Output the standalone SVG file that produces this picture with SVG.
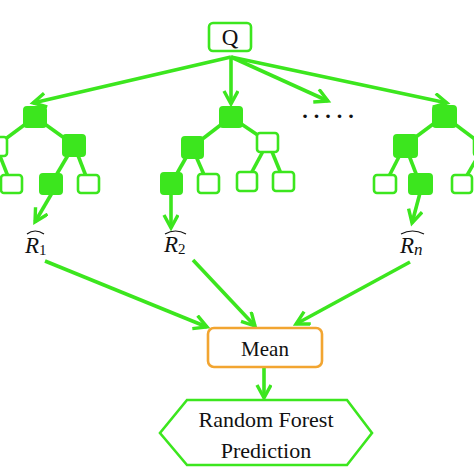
<svg xmlns="http://www.w3.org/2000/svg" width="474" height="474" viewBox="0 0 474 474">
<style>
.e{stroke:#3ce61e;stroke-width:3.6;fill:none}
.a{stroke:#3ce61e;stroke-width:3.6;fill:none;marker-end:url(#ah)}
.f{fill:#3ce61e;stroke:#3ce61e;stroke-width:2}
.w{fill:#fff;stroke:#3ce61e;stroke-width:2.6}
.t{font-family:"Liberation Serif",serif;fill:#111;text-anchor:middle}
.r{font-family:"Liberation Serif",serif;font-style:italic;fill:#111}
.h{stroke:#111;stroke-width:1.2;fill:none}
</style>
<defs>
<marker id="ah" markerUnits="userSpaceOnUse" markerWidth="18" markerHeight="18" refX="14" refY="8" orient="auto">
<path d="M1,1 L14,8 L1,15" stroke="#3ce61e" stroke-width="3.4" fill="none"/>
</marker>
</defs>
<rect width="474" height="474" fill="#fff"/>
<g id="connectors">
<line class="a" x1="231" y1="57" x2="33" y2="103"/>
<line class="a" x1="231" y1="57" x2="231" y2="104"/>
<line class="a" x1="231" y1="57" x2="328" y2="101"/>
<line class="a" x1="231" y1="57" x2="447" y2="103"/>
<line class="a" x1="52" y1="193" x2="35" y2="222"/>
<line class="a" x1="171" y1="193" x2="171" y2="228"/>
<line class="a" x1="420" y1="193" x2="412" y2="223"/>
<line class="a" x1="45" y1="261" x2="207" y2="327"/>
<line class="a" x1="193" y1="260" x2="255" y2="326"/>
<line class="a" x1="410" y1="262" x2="296" y2="324"/>
<line class="a" x1="264" y1="367" x2="264" y2="398"/>
<!-- tree edges -->
<line class="e" x1="35" y1="117" x2="-4" y2="146"/>
<line class="e" x1="35" y1="117" x2="74" y2="145"/>
<line class="e" x1="-4" y1="146" x2="11" y2="184"/>
<line class="e" x1="74" y1="145" x2="51" y2="184"/>
<line class="e" x1="74" y1="145" x2="89" y2="184"/>
<line class="e" x1="231" y1="117" x2="192" y2="147"/>
<line class="e" x1="231" y1="117" x2="268" y2="142"/>
<line class="e" x1="192" y1="147" x2="171" y2="184"/>
<line class="e" x1="192" y1="147" x2="208" y2="184"/>
<line class="e" x1="268" y1="142" x2="247" y2="181"/>
<line class="e" x1="268" y1="142" x2="284" y2="181"/>
<line class="e" x1="444" y1="116" x2="405" y2="145"/>
<line class="e" x1="444" y1="116" x2="484" y2="146"/>
<line class="e" x1="405" y1="145" x2="385" y2="184"/>
<line class="e" x1="405" y1="145" x2="420" y2="184"/>
<line class="e" x1="484" y1="146" x2="462" y2="184"/>
</g>
<g id="Q">
<rect x="209" y="23" width="42" height="28" rx="4" fill="#fff" stroke="#3ce61e" stroke-width="2.6"/>
<text class="t" x="230" y="45" font-size="23">Q</text>
</g>
<g id="tree1">
<rect class="f" x="24" y="107" width="22" height="20" rx="3"/>
<rect class="w" x="-15" y="137" width="22" height="19" rx="3"/>
<rect class="f" x="63" y="135" width="22" height="21" rx="3"/>
<rect class="w" x="1" y="175" width="21" height="18" rx="3"/>
<rect class="f" x="40" y="174" width="22" height="20" rx="3"/>
<rect class="w" x="78" y="175" width="21" height="18" rx="3"/>
</g>
<g id="tree2">
<rect class="f" x="220" y="107" width="22" height="20" rx="3"/>
<rect class="f" x="182" y="137" width="21" height="21" rx="3"/>
<rect class="w" x="257" y="133" width="21" height="19" rx="3"/>
<rect class="f" x="161" y="173" width="21" height="21" rx="3"/>
<rect class="w" x="198" y="174" width="21" height="19" rx="3"/>
<rect class="w" x="237" y="172" width="20" height="19" rx="3"/>
<rect class="w" x="273" y="172" width="21" height="19" rx="3"/>
</g>
<g id="dots">
<text class="t" x="331" y="118" font-size="22" font-weight="bold" letter-spacing="6">.....</text>
</g>
<g id="tree3">
<rect class="f" x="433" y="106" width="23" height="21" rx="3"/>
<rect class="f" x="394" y="135" width="23" height="22" rx="3"/>
<rect class="w" x="474" y="136" width="22" height="20" rx="3"/>
<rect class="w" x="374" y="175" width="22" height="18" rx="3"/>
<rect class="f" x="409" y="174" width="23" height="20" rx="3"/>
<rect class="w" x="452" y="175" width="20" height="18" rx="3"/>
</g>
<g id="R1">
<path class="h" d="M27,234 Q35,228 44,234"/>
<text class="r" x="25" y="253" font-size="23">R<tspan font-size="15" dy="2" font-style="normal">1</tspan></text>
</g>
<g id="R2">
<path class="h" d="M165,234 Q175.5,228 186,234"/>
<text class="r" x="164" y="252" font-size="23">R<tspan font-size="15" dy="2" font-style="normal">2</tspan></text>
</g>
<g id="Rn">
<path class="h" d="M401,234 Q412.5,228 424,234"/>
<text class="r" x="400" y="253" font-size="23">R<tspan font-size="17" dy="2">n</tspan></text>
</g>
<g id="mean">
<rect x="208" y="328" width="114" height="39" rx="6" fill="#fff" stroke="#f2a531" stroke-width="2.6"/>
<text class="t" x="265" y="356" font-size="21">Mean</text>
</g>
<g id="prediction">
<polygon points="187,400 347,400 372,433 347,465 187,465 160,433" fill="#fff" stroke="#3ce61e" stroke-width="2.6"/>
<text class="t" x="266" y="427" font-size="22">Random Forest</text>
<text class="t" x="266" y="458" font-size="22">Prediction</text>
</g>
</svg>
